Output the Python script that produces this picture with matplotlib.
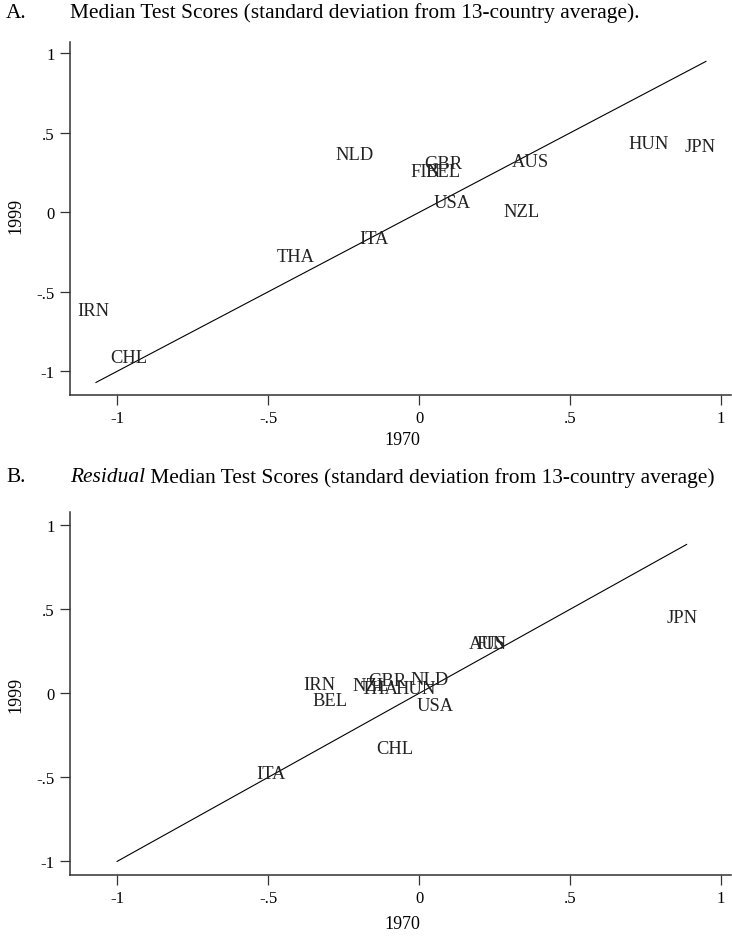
import matplotlib
matplotlib.use("Agg")
import matplotlib.pyplot as plt

# ---- data (label centre positions) ----
countries_a = ["NLD", "FIN", "BEL", "GBR", "AUS", "USA", "NZL",
               "ITA", "THA", "IRN", "CHL", "HUN", "JPN"]
x1970_a = [-0.215, 0.02, 0.08, 0.08, 0.37, 0.11, 0.34,
           -0.15, -0.41, -1.08, -0.96, 0.76, 0.93]
y1999_a = [0.367, 0.26, 0.26, 0.31, 0.317, 0.065, 0.008,
           -0.162, -0.275, -0.62, -0.91, 0.436, 0.417]
line_a = [-1.07, 0.95]

countries_b = ["IRN", "BEL", "NZL", "THA", "GBR", "HUN", "NLD",
               "USA", "CHL", "AUS", "FIN", "ITA", "JPN"]
x1970_b = [-0.33, -0.295, -0.16, -0.13, -0.105, -0.01, 0.036,
           0.053, -0.08, 0.225, 0.24, -0.49, 0.87]
y1999_b = [0.055, -0.044, 0.045, 0.03, 0.075, 0.026, 0.081,
           -0.074, -0.33, 0.294, 0.294, -0.48, 0.45]
line_b = [-1.0, 0.886]

ticks = [-1, -0.5, 0, 0.5, 1]
tick_labels = ["-1", "-.5", "0", ".5", "1"]

plt.rcParams["font.family"] = ["Liberation Serif", "DejaVu Serif"]

W, H = 732, 937
fig = plt.figure(figsize=(W / 100, H / 100), dpi=100)


def fx(px):
    return px / W


def fy(py):
    return 1 - py / H


def panel(top_px, bottom_px, names, xs, ys, line, ylim):
    ax = fig.add_axes([fx(70), fy(bottom_px), fx(731) - fx(70),
                       fy(top_px) - fy(bottom_px)])
    ax.plot(line, line, color="black", lw=0.8)
    for n, x, y in zip(names, xs, ys):
        ax.text(x, y, n, ha="center", va="center", fontsize=13.3,
                color="#222222")
    ax.set_xlim(-1.156, 1.033)
    ax.set_ylim(*ylim)
    ax.set_xticks(ticks)
    ax.set_xticklabels(tick_labels)
    ax.set_yticks(ticks)
    ax.set_yticklabels(tick_labels)
    for s in ["top", "right"]:
        ax.spines[s].set_visible(False)
    for s in ["left", "bottom"]:
        ax.spines[s].set_linewidth(1.1)
        ax.spines[s].set_color("#333333")
    ax.tick_params(length=7, width=0.9, color="#333333",
                   labelsize=12, pad=4)
    return ax


panel(43, 396, countries_a, x1970_a, y1999_a, line_a, (-1.149, 1.072))
panel(513, 876, countries_b, x1970_b, y1999_b, line_b, (-1.081, 1.079))

# titles
fs_title = 15.4
fig.text(fx(6), fy(13), "A.", fontsize=fs_title, va="center", ha="left")
fig.text(fx(70), fy(13), "Median Test Scores (standard deviation from 13-country average).",
         fontsize=fs_title, va="center", ha="left")
fig.text(fx(6), fy(478), "B.", fontsize=fs_title, va="center", ha="left")
t = fig.text(fx(70), fy(478), "Residual", fontsize=fs_title, style="italic",
             va="center", ha="left")
plt.annotate(" Median Test Scores (standard deviation from 13-country average)",
             xy=(1, 0.5), xycoords=t, va="center", ha="left", fontsize=fs_title)

# axis titles
for ycen, xl in [(216, 441), (695, 925)]:
    fig.text(fx(16), fy(ycen), "1999", rotation=90, fontsize=13,
             ha="center", va="center")
    fig.text(fx(402), fy(xl), "1970", fontsize=13, ha="center", va="center")

fig.savefig("out.png", dpi=100)
